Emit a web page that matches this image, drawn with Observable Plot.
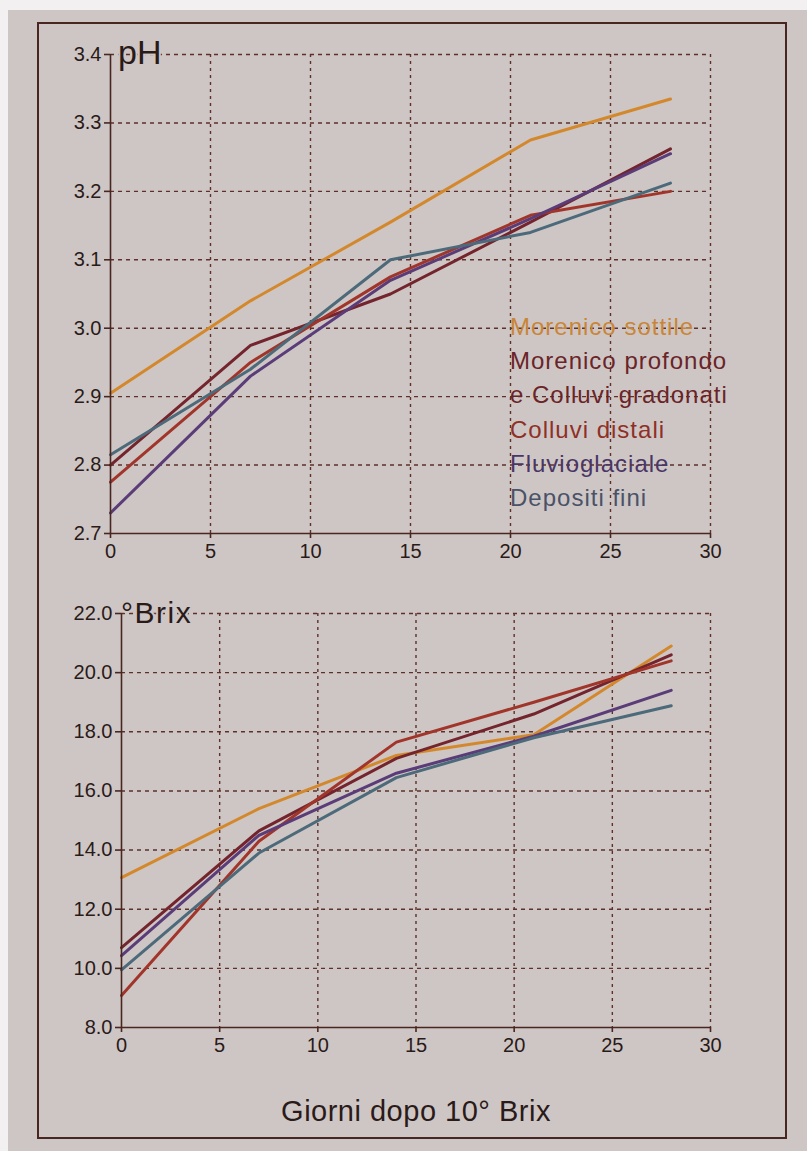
<!DOCTYPE html>
<html>
<head>
<meta charset="utf-8">
<script src="https://cdn.jsdelivr.net/npm/d3@7"></script>
<script src="https://cdn.jsdelivr.net/npm/@observablehq/plot@0.6"></script>
<style>
  html, body { margin: 0; padding: 0; background: #f2f0f0; }
  #page { position: relative; width: 807px; height: 1151px; overflow: hidden; background: #f2f0f0; font-family: "Liberation Sans", Arial, sans-serif; }
  #paper { position: absolute; left: 8px; top: 10px; width: 799px; height: 1141px; background: #cec6c5; }
  #box { position: absolute; left: 37px; top: 22px; width: 746px; height: 1113px; border: 2px solid #4a2620; }
  .chart { position: absolute; left: 0; }
  #overlay { position: absolute; left: 0; top: 0; }
</style>
</head>
<body>
<div id="page">
  <div id="paper"></div>
  <div id="box"></div>
  <div id="top" class="chart" style="top:0px"></div>
  <div id="bottom" class="chart" style="top:580px"></div>
  <svg id="overlay" width="807" height="1151"></svg>
</div>
<script>
// ---- data ----
const days = [0, 7, 14, 21, 28];
const seriesNames = ["Morenico sottile", "Morenico profondo e Colluvi gradonati", "Colluvi distali", "Fluvioglaciale", "Depositi fini"];
const seriesColors = ["#d4882c", "#74242c", "#a2352a", "#5a3c78", "#4c6a7a"];
const legendColors = ["#c98538", "#6a2428", "#8e3026", "#4a3666", "#4a5268"];

// pH values per series
const phSottile  = [2.905, 3.04, 3.155, 3.275, 3.335];
const phProfondo = [2.80, 2.975, 3.05, 3.155, 3.262];
const phDistali  = [2.775, 2.95, 3.075, 3.165, 3.20];
const phFluvio   = [2.73, 2.93, 3.07, 3.16, 3.255];
const phFini     = [2.815, 2.94, 3.10, 3.14, 3.212];

// °Brix values per series
const bxSottile  = [13.07, 15.4, 17.2, 17.9, 20.9];
const bxProfondo = [10.7, 14.65, 17.1, 18.6, 20.6];
const bxDistali  = [9.08, 14.3, 17.65, 19.0, 20.4];
const bxFluvio   = [10.43, 14.5, 16.6, 17.85, 19.4];
const bxFini     = [9.95, 13.9, 16.45, 17.8, 18.88];

const xTicks = [0, 5, 10, 15, 20, 25, 30];
const phTicks = [2.7, 2.8, 2.9, 3.0, 3.1, 3.2, 3.3, 3.4];
const bxTicks = [8, 10, 12, 14, 16, 18, 20, 22];

const xTitle = "Giorni dopo 10° Brix";

// ---- build tables ----
function table(arrs) {
  const rows = [];
  arrs.forEach((vals, i) => vals.forEach((v, j) => rows.push({series: seriesNames[i], day: days[j], value: v})));
  return rows;
}
const phData = table([phSottile, phProfondo, phDistali, phFluvio, phFini]);
const bxData = table([bxSottile, bxProfondo, bxDistali, bxFluvio, bxFini]);

const ink = "#4a2620";
const gridInk = "#5e3028";

function chart(data, yTicks, yFmt, opts) {
  const y0 = yTicks[0];
  return Plot.plot({
    width: 807,
    height: opts.height,
    marginLeft: opts.left,
    marginRight: 97,
    marginTop: opts.top,
    marginBottom: opts.bottom,
    style: {background: "transparent", fontFamily: "'Liberation Sans', Arial, sans-serif", fontSize: "20px", color: "#2a1a18", overflow: "visible"},
    x: {domain: [0, 30], label: null},
    y: {domain: [yTicks[0], yTicks[yTicks.length - 1]], label: null},
    color: {domain: seriesNames, range: seriesColors},
    marks: [
      Plot.gridX(xTicks.filter(d => d > 0), {stroke: gridInk, strokeOpacity: 1, strokeWidth: 1.4, strokeDasharray: "3,4"}),
      Plot.gridY(yTicks.filter(d => d > y0), {stroke: gridInk, strokeOpacity: 1, strokeWidth: 1.4, strokeDasharray: "4,4"}),
      Plot.line(data, {x: "day", y: "value", z: "series", stroke: "series", strokeWidth: 3, strokeLinejoin: "round", strokeLinecap: "round"}),
      Plot.ruleX([0], {stroke: ink, strokeWidth: 1.6}),
      Plot.ruleY([y0], {stroke: ink, strokeWidth: 1.6}),
      Plot.axisX({ticks: xTicks, tickFormat: d => d, tickSize: 5, tickPadding: 5, stroke: ink, strokeWidth: 1.6, fontSize: 20, label: null}),
      Plot.axisY({ticks: yTicks, tickFormat: yFmt, tickSize: 6, tickPadding: 3, stroke: ink, strokeWidth: 1.6, fontSize: 20, label: null})
    ]
  });
}

document.getElementById("top").appendChild(
  chart(phData, phTicks, d3.format(".1f"), {height: 580, left: 110, top: 54, bottom: 47})
);
document.getElementById("bottom").appendChild(
  chart(bxData, bxTicks, d3.format(".1f"), {height: 480, left: 121, top: 33, bottom: 33})
);

// ---- overlay texts ----
const ov = d3.select("#overlay").style("font-family", "'Liberation Sans', Arial, sans-serif");
ov.append("text").attr("x", 118).attr("y", 64).attr("font-size", 34).attr("fill", "#2a1a18")
  .attr("stroke", "#cec6c5").attr("stroke-width", 4).attr("paint-order", "stroke").text("pH");
ov.append("text").attr("x", 121).attr("y", 623).attr("font-size", 30).attr("letter-spacing", 1.5).attr("fill", "#2a1a18")
  .attr("stroke", "#cec6c5").attr("stroke-width", 4).attr("paint-order", "stroke").text("°Brix");

const legendLines = [
  {t: "Morenico sottile", c: legendColors[0]},
  {t: "Morenico profondo", c: legendColors[1]},
  {t: "e Colluvi gradonati", c: legendColors[1]},
  {t: "Colluvi distali", c: legendColors[2]},
  {t: "Fluvioglaciale", c: legendColors[3]},
  {t: "Depositi fini", c: legendColors[4]}
];
ov.selectAll("text.leg").data(legendLines).join("text").attr("class", "leg")
  .attr("x", 510).attr("y", (d, i) => 335 + i * 34.2)
  .attr("font-size", 24).attr("letter-spacing", 1).attr("fill", d => d.c).text(d => d.t);

ov.append("text").attr("x", 416).attr("y", 1121).attr("text-anchor", "middle")
  .attr("font-size", 29).attr("letter-spacing", 0.5).attr("fill", "#2a1a18").text(xTitle);
</script>
</body>
</html>
